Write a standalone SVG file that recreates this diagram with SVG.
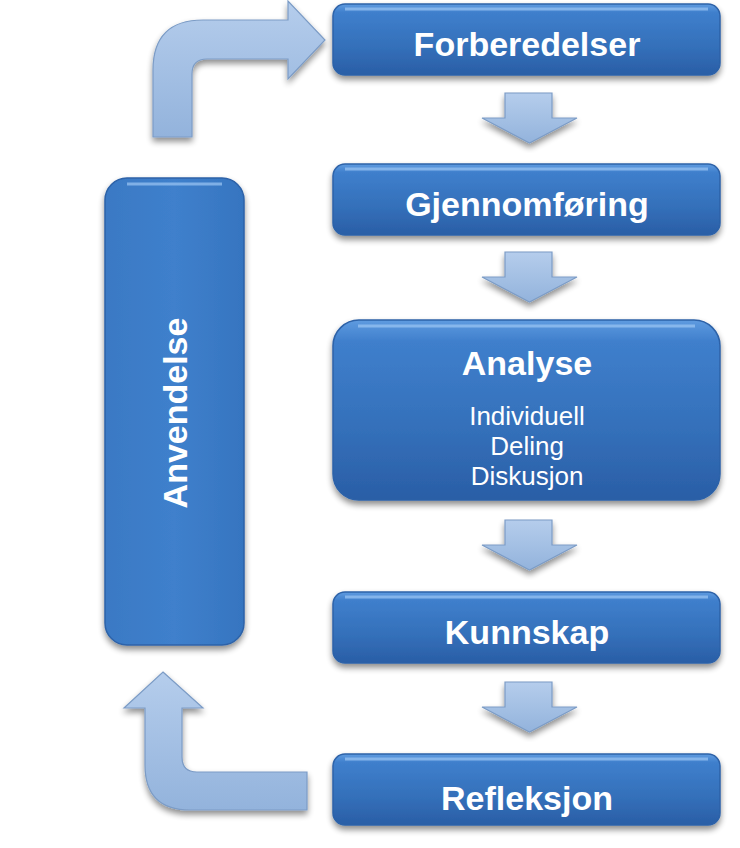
<svg xmlns="http://www.w3.org/2000/svg" width="740" height="848" viewBox="0 0 740 848">
<defs>
<linearGradient id="boxg" x1="0" y1="0" x2="0" y2="1">
<stop offset="0" stop-color="#5f9be0"/>
<stop offset="0.12" stop-color="#3f7fcc"/>
<stop offset="0.6" stop-color="#3470ba"/>
<stop offset="1" stop-color="#2a5ea6"/>
</linearGradient>
<linearGradient id="boxgv" x1="0" y1="0" x2="1" y2="0">
<stop offset="0" stop-color="#3a79c4"/>
<stop offset="0.5" stop-color="#3f80cc"/>
<stop offset="1" stop-color="#3675c0"/>
</linearGradient>
<linearGradient id="arrg" x1="0" y1="0" x2="0" y2="1">
<stop offset="0" stop-color="#b5cdec"/>
<stop offset="1" stop-color="#93b3dc"/>
</linearGradient>
<filter id="sh" x="-10%" y="-10%" width="120%" height="130%">
<feGaussianBlur in="SourceAlpha" stdDeviation="3"/>
<feOffset dx="0" dy="4" result="b"/>
<feComponentTransfer><feFuncA type="linear" slope="0.45"/></feComponentTransfer>
<feMerge><feMergeNode/><feMergeNode in="SourceGraphic"/></feMerge>
</filter>
</defs>
<style>
.box{fill:url(#boxg);stroke:#2d62a8;stroke-width:1.5;filter:url(#sh)}
.hl{fill:none;stroke:#9cc6f3;stroke-width:3;stroke-opacity:0.7}
.arr{fill:url(#arrg);stroke:#7c9cc6;stroke-width:1.2;filter:url(#sh)}
.t{font-family:"Liberation Sans",Arial,sans-serif;font-weight:bold;font-size:34px;fill:#ffffff;text-anchor:middle}
.s{font-family:"Liberation Sans",Arial,sans-serif;font-size:26px;fill:#ffffff;text-anchor:middle}
</style>
<g id="connectors">
<path class="arr" d="M153,137 L153,70 Q153,20 203,20 L288,20 L288,1 L325,40 L288,79 L288,59 L207,59 Q192,59 192,74 L192,137 Z"/>
<path class="arr" d="M163,672 L203,708 L182,708 L182,757 Q182,772 197,772 L307,772 L307,810 L190,810 Q145,810 145,765 L145,708 L124,708 Z"/>
<path class="arr" d="M505,93 L552,93 L552,118 L577,118 L529.5,143 L482,118 L505,118 Z"/>
<path class="arr" d="M505,252 L552,252 L552,277 L577,277 L529.5,302 L482,277 L505,277 Z"/>
<path class="arr" d="M505,520 L552,520 L552,545 L577,545 L529.5,570 L482,545 L505,545 Z"/>
<path class="arr" d="M505,682 L552,682 L552,707 L577,707 L529.5,732 L482,707 L505,707 Z"/>
</g>
<g id="forberedelser">
<rect class="box" x="333" y="4" width="387" height="71" rx="12"/>
<path class="hl" d="M345,9 L708,9"/>
<text class="t" x="527" y="56">Forberedelser</text>
</g>
<g id="gjennomforing">
<rect class="box" x="333" y="164" width="387" height="71" rx="12"/>
<path class="hl" d="M345,169 L708,169"/>
<text class="t" x="527" y="216">Gjennomføring</text>
</g>
<g id="analyse">
<rect class="box" x="333" y="320" width="387" height="180" rx="26"/>
<path class="hl" d="M358,326 L695,326"/>
<text class="t" x="527" y="375">Analyse</text>
<text class="s" x="527" y="425">Individuell</text>
<text class="s" x="527" y="455">Deling</text>
<text class="s" x="527" y="485">Diskusjon</text>
</g>
<g id="kunnskap">
<rect class="box" x="333" y="592" width="387" height="71" rx="12"/>
<path class="hl" d="M345,597 L708,597"/>
<text class="t" x="527" y="644">Kunnskap</text>
</g>
<g id="refleksjon">
<rect class="box" x="333" y="754" width="387" height="71" rx="12"/>
<path class="hl" d="M345,759 L708,759"/>
<text class="t" x="527" y="810">Refleksjon</text>
</g>
<g id="anvendelse">
<rect class="box" x="105" y="178" width="139" height="467" rx="22" style="fill:url(#boxgv)"/>
<path class="hl" d="M127,184 L222,184"/>
<text class="t" x="0" y="0" transform="translate(187,413) rotate(-90)">Anvendelse</text>
</g>
</svg>
